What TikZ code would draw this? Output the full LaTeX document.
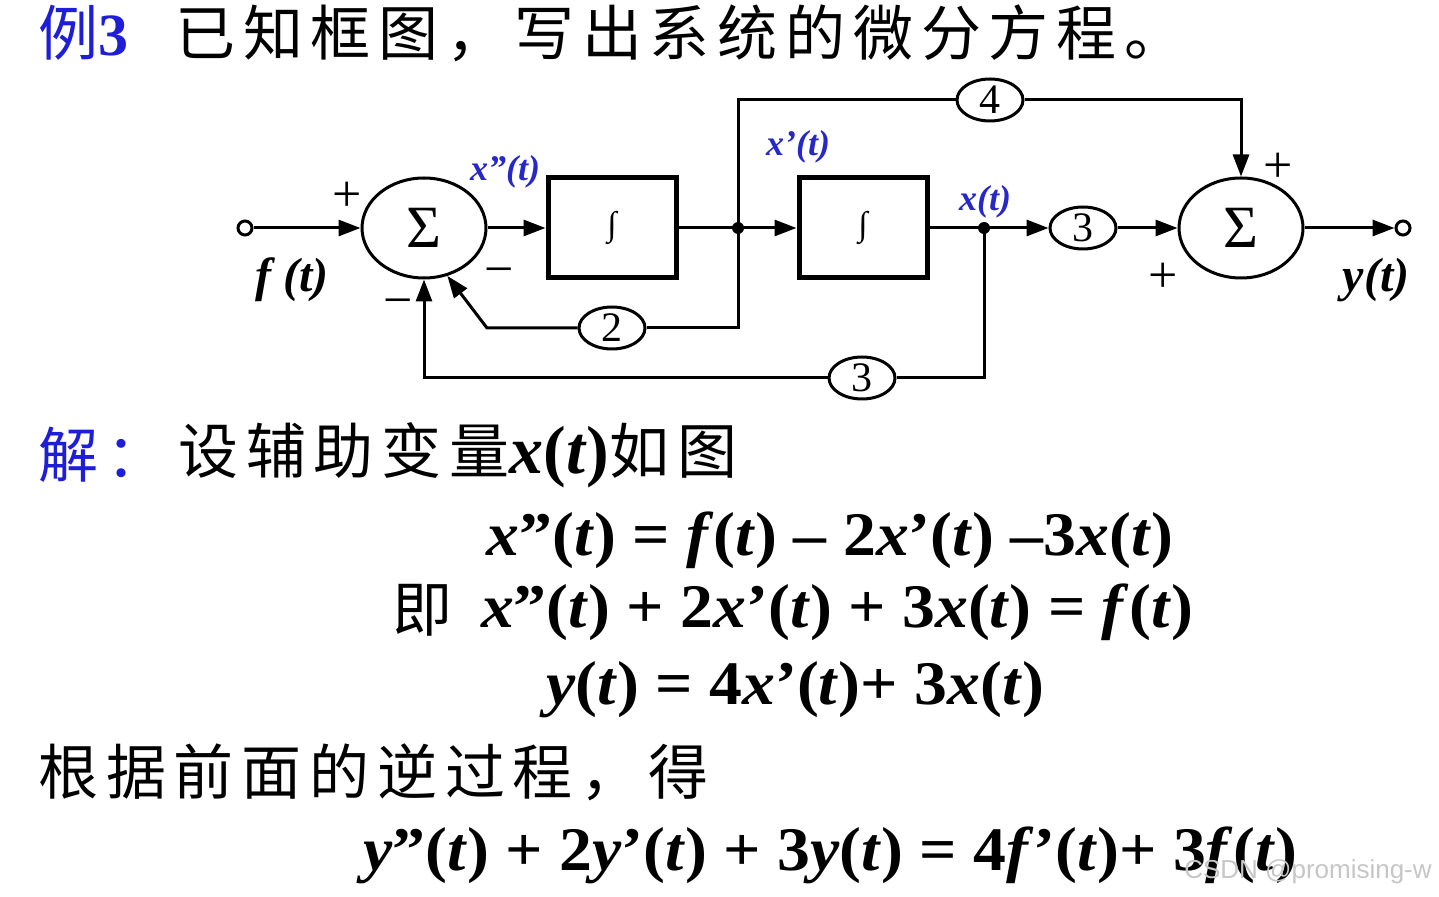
\documentclass[tikz,border=0pt]{standalone}
\usepackage{fontspec}
\setmainfont{Liberation Serif}
\newfontfamily\cjk[LetterSpace=13]{Noto Sans CJK SC}
\newfontfamily\eqfont[FakeStretch=1.06]{Liberation Serif}
\newfontfamily\wmfont{Liberation Sans}
\usetikzlibrary{shapes.geometric,arrows.meta,calc}

\definecolor{titleblue}{RGB}{30,30,215}
\definecolor{labelblue}{RGB}{40,40,200}
\newcommand{\vi}[1]{\textit{#1}}

\tikzset{
  sumnode/.style={ellipse, draw, line width=1.5pt, minimum width=62pt,
    minimum height=50pt, inner sep=0pt, font=\fontsize{30}{30}\selectfont},
  intbox/.style={rectangle, draw, line width=2.5pt, minimum width=64pt,
    minimum height=50pt, inner sep=0pt, font=\fontsize{17}{17}\selectfont},
  gain/.style={ellipse, draw, line width=1.5pt, minimum width=33pt,
    minimum height=21pt, inner sep=0pt, font=\fontsize{21}{21}\selectfont},
  port/.style={circle, draw, line width=1.5pt, minimum size=7pt, inner sep=0pt},
  junc/.style={circle, fill, minimum size=6pt, inner sep=0pt},
  sig/.style={line width=1.5pt},
  arr/.style={sig, -{Triangle[length=11pt,width=8pt]}},
  sign/.style={font=\fontsize{26}{26}\selectfont},
  varlbl/.style={text=labelblue, font=\fontsize{18}{18}\selectfont\bfseries\itshape},
  iolbl/.style={font=\fontsize{24}{24}\selectfont\bfseries\itshape},
  eqn/.style={font=\fontsize{31}{31}\selectfont\eqfont\bfseries, inner sep=0pt},
  cjktext/.style={font=\fontsize{30}{30}\selectfont\cjk, anchor=west, inner sep=0pt}
}

\begin{document}
\begin{tikzpicture}[x=0.5pt, y=-0.5pt]
  \useasboundingbox (0,0) rectangle (1439,897);

  % titulo
  \node[cjktext] (title) at (38,33) {\textcolor{titleblue}{例{\rmfamily\bfseries 3}}};
  \node[cjktext] (task) at (175,33) {已知框图，写出系统的微分方程。};

  % blocos
  \node[port] (inp) at (245,228) {};
  \node[sumnode] (sumA) at (424,228) {Σ};
  \node[intbox] (intA) at (612,228) {∫};
  \node[junc] (jA) at (738,228) {};
  \node[intbox] (intB) at (863,228) {∫};
  \node[junc] (jB) at (984,228) {};
  \node[gain] (gThreeF) at (1083,228) {3};
  \node[sumnode] (sumB) at (1241,228) {Σ};
  \node[port] (outp) at (1403,228) {};
  \node[gain] (gFour) at (990,100) {4};
  \node[gain] (gTwo) at (612,328) {2};
  \node[gain] (gThreeB) at (862,378) {3};
  \coordinate (bend) at (487,328);

  % ligacoes diretas
  \draw[arr] (inp) -- (sumA);
  \draw[arr] (sumA) -- (intA);
  \draw[sig] (intA) -- (jA.center);
  \draw[arr] (jA.center) -- (intB);
  \draw[sig] (intB) -- (jB.center);
  \draw[arr] (jB.center) -- (gThreeF);
  \draw[arr] (gThreeF) -- (sumB);
  \draw[arr] (sumB) -- (outp);

  % ramo de cima
  \draw[sig] (jA.center) |- (gFour);
  \draw[arr] (gFour) -| (sumB.north);

  % realimentacoes
  \draw[sig] (jA.center) |- (gTwo);
  \draw[arr] (gTwo) -- (bend) -- (sumA.-64);
  \draw[sig] (jB.center) |- (gThreeB);
  \draw[arr] (gThreeB) -| (sumA.south);

  % sinais
  \node[sign] (pA) at (347,197) {+};
  \node[sign] (mA) at (499,277) {−};
  \node[sign] (mB) at (398,308) {−};
  \node[sign] (pB) at (1278,168) {+};
  \node[sign] (pC) at (1163,278) {+};

  % rotulos
  \node[varlbl] (lxpp) at (505,172) {x”(t)};
  \node[varlbl] (lxp) at (798,147) {x’(t)};
  \node[varlbl] (lx) at (985,202) {x(t)};
  \node[iolbl] (lf) at (292,280) {f (t)};
  \node[iolbl] (ly) at (1376,280) {y(t)};

  % solucao
  \node[cjktext] (sol) at (38,455) {\textcolor{titleblue}{解：}};
  \node[cjktext] (aux) at (178,455) {设辅助变量{\rmfamily\bfseries\fontsize{34}{34}\selectfont\vi{x}(\vi{t})}如图};
  \node[eqn] (eqA) at (830,540) {\vi{x}”(\vi{t}) = \vi{f}(\vi{t}) – 2\vi{x}’(\vi{t}) –3\vi{x}(\vi{t})};
  \node[cjktext] (ji) at (392,610) {即};
  \node[eqn] (eqB) at (837,612) {\vi{x}”(\vi{t}) + 2\vi{x}’(\vi{t}) + 3\vi{x}(\vi{t}) = \vi{f}(\vi{t})};
  \node[eqn] (eqC) at (795,690) {\vi{y}(\vi{t}) = 4\vi{x}’(\vi{t})+ 3\vi{x}(\vi{t})};
  \node[cjktext] (rev) at (38,772) {根据前面的逆过程，得};
  \node[eqn] (eqD) at (830,855) {\vi{y}”(\vi{t}) + 2\vi{y}’(\vi{t}) + 3\vi{y}(\vi{t}) = 4\vi{f}’(\vi{t})+ 3\vi{f}(\vi{t})};

  % marca
  \node[text=gray!45, font=\fontsize{13}{13}\selectfont\wmfont] (wm) at (1308,872) {CSDN @promising-w};
\end{tikzpicture}
\end{document}
